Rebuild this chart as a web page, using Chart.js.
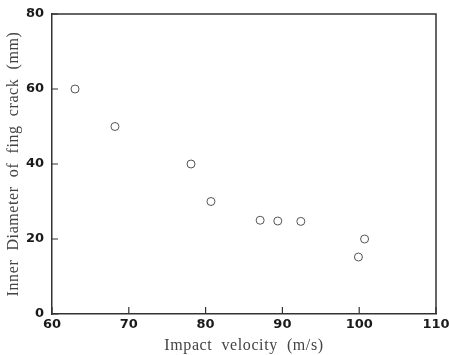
<!DOCTYPE html>
<html>
<head>
<meta charset="utf-8">
<script src="https://cdn.jsdelivr.net/npm/chart.js@4/dist/chart.umd.min.js"></script>
<style>
  html, body { margin: 0; padding: 0; background: #fff; }
  #wrap { width: 449px; height: 355px; }
</style>
</head>
<body>
<div id="wrap"><canvas id="c" width="449" height="355"></canvas></div>
<script>
const velocity = [63.0, 68.2, 78.1, 80.7, 87.1, 89.4, 92.4, 100.7, 99.9];
const innerDiameter = [60, 50, 40, 30, 25, 24.8, 24.7, 20, 15.2];
const xTicks = [60, 70, 80, 90, 100, 110];
const yTicks = [0, 20, 40, 60, 80];

const points = velocity.map((v, i) => ({ x: v, y: innerDiameter[i] }));
const axisColor = '#333';

function spacedTitle(scale) {
  if (scale._spacedPatched) return;
  const orig = scale.drawTitle;
  scale.drawTitle = function () {
    const ctx = this.ctx;
    ctx.save();
    ctx.letterSpacing = '0.6px';
    ctx.wordSpacing = '4.5px';
    orig.call(this);
    ctx.restore();
  };
  scale._spacedPatched = true;
}

const frameAndTicks = {
  id: 'frameAndTicks',
  afterDraw(chart) {
    const { ctx, chartArea: a, scales } = chart;
    ctx.save();
    ctx.strokeStyle = axisColor;
    ctx.lineWidth = 1.5;
    ctx.beginPath();
    ctx.moveTo(a.left, a.top); ctx.lineTo(a.right, a.top); ctx.lineTo(a.right, a.bottom);
    ctx.stroke();
    ctx.lineWidth = 1.2;
    ctx.beginPath();
    scales.x.ticks.forEach(t => {
      const px = scales.x.getPixelForValue(t.value);
      ctx.moveTo(px, a.bottom); ctx.lineTo(px, a.bottom - 7);
    });
    scales.y.ticks.forEach(t => {
      const py = scales.y.getPixelForValue(t.value);
      ctx.moveTo(a.left, py); ctx.lineTo(a.left + 6, py);
    });
    ctx.stroke();
    ctx.restore();
  }
};

new Chart(document.getElementById('c'), {
  type: 'scatter',
  data: {
    datasets: [{
      data: points,
      pointRadius: 4,
      pointBorderWidth: 1,
      pointBorderColor: '#555',
      pointBackgroundColor: '#fff',
      showLine: false
    }]
  },
  options: {
    responsive: false,
    animation: false,
    devicePixelRatio: 1,
    layout: { autoPadding: false, padding: { top: 14, right: 13, left: 0, bottom: 0 } },
    plugins: { legend: { display: false }, tooltip: { enabled: false } },
    scales: {
      x: {
        type: 'linear', min: 60, max: 110,
        afterBuildTicks: s => { s.ticks = xTicks.map(v => ({ value: v })); },
        afterFit: s => { s.height = 41; s.paddingLeft = 0; s.paddingRight = 0; spacedTitle(s); },
        grid: { drawOnChartArea: false, drawTicks: false },
        border: { display: true, color: axisColor, width: 1.5 },
        ticks: { color: '#1a1a1a', padding: 3, font: { family: 'DejaVu Sans', size: 13, weight: 'bold' } },
        title: { display: true, text: 'Impact velocity (m/s)', color: '#444', padding: { top: 0, bottom: 0 },
                 font: { family: 'Liberation Serif', size: 16 } }
      },
      y: {
        type: 'linear', min: 0, max: 80,
        afterBuildTicks: s => { s.ticks = yTicks.map(v => ({ value: v })); },
        afterFit: s => { s.width = 52; s.paddingTop = 0; s.paddingBottom = 0; spacedTitle(s); },
        grid: { drawOnChartArea: false, drawTicks: false },
        border: { display: true, color: axisColor, width: 1.5 },
        ticks: { color: '#1a1a1a', padding: 8, font: { family: 'DejaVu Sans', size: 13, weight: 'bold' } },
        title: { display: true, text: 'Inner Diameter of fing crack (mm)', color: '#444', padding: { top: 4, bottom: 0 },
                 font: { family: 'Liberation Serif', size: 16 } }
      }
    }
  },
  plugins: [frameAndTicks]
});
</script>
</body>
</html>
